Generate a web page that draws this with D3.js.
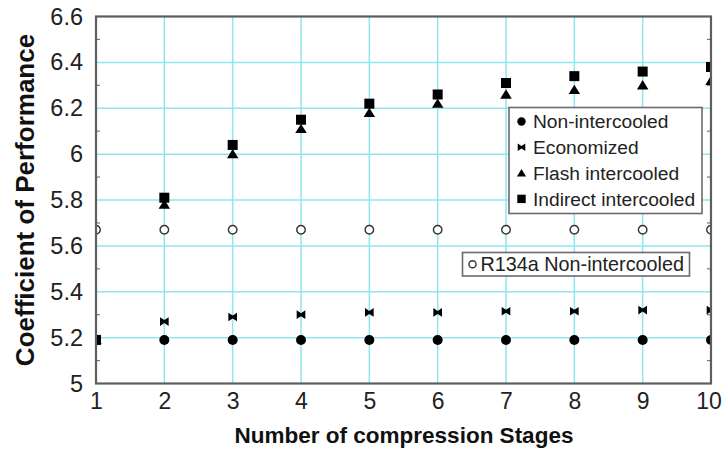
<!DOCTYPE html>
<html>
<head>
<meta charset="utf-8">
<script src="https://cdn.jsdelivr.net/npm/d3@7"></script>
<style>
  html, body { margin: 0; padding: 0; background: #fff; }
  svg { display: block; font-family: "Liberation Sans", Arial, Helvetica, sans-serif; }
</style>
</head>
<body>
<svg id="chart" width="723" height="455"></svg>
<script>
// Coefficient of performance against number of compression stages
const stages = [1, 2, 3, 4, 5, 6, 7, 8, 9, 10];
const nonIntercooled    = [5.19, 5.19, 5.19, 5.19, 5.19, 5.19, 5.19, 5.19, 5.19, 5.19];
const economized        = [5.19, 5.27, 5.29, 5.30, 5.31, 5.31, 5.315, 5.315, 5.32, 5.32];
const flashIntercooled  = [5.19, 5.78, 6.00, 6.11, 6.18, 6.22, 6.26, 6.28, 6.30, 6.32];
const indirectIntercooled = [5.19, 5.81, 6.04, 6.15, 6.22, 6.26, 6.31, 6.34, 6.36, 6.38];
const r134aNonIntercooled = [5.67, 5.67, 5.67, 5.67, 5.67, 5.67, 5.67, 5.67, 5.67, 5.67];

const xTicks = [1, 2, 3, 4, 5, 6, 7, 8, 9, 10];
const yTicks = [5, 5.2, 5.4, 5.6, 5.8, 6, 6.2, 6.4, 6.6];
const yMinorTicks = [5.1, 5.3, 5.5, 5.7, 5.9, 6.1, 6.3, 6.5];

const seriesNames = ["Non-intercooled", "Economized", "Flash intercooled", "Indirect intercooled"];
const r134aName = "R134a Non-intercooled";

const svg = d3.select("#chart");
const plotL = 96, plotR = 711, plotT = 16.5, plotB = 383.5;

const x = d3.scaleLinear().domain([1, 10]).range([plotL, plotR]);
const y = d3.scaleLinear().domain([5, 6.6]).range([plotB, plotT]);

const gridColor = "#8fe6ee";
const frameColor = "#5e5e5e";

// grid
const grid = svg.append("g");
grid.selectAll("line.gx").data(xTicks.slice(1, -1)).join("line")
  .attr("x1", d => x(d)).attr("x2", d => x(d))
  .attr("y1", plotT).attr("y2", plotB)
  .attr("stroke", gridColor).attr("stroke-width", 1.5);
grid.selectAll("line.gy").data(yTicks.slice(1, -1)).join("line")
  .attr("x1", plotL).attr("x2", plotR)
  .attr("y1", d => y(d)).attr("y2", d => y(d))
  .attr("stroke", gridColor).attr("stroke-width", 1.5);

// axes with tick labels
const xAxis = d3.axisBottom(x).tickValues(xTicks).tickSize(0).tickPadding(9).tickFormat(d3.format("d"));
const gx = svg.append("g").attr("transform", `translate(0,${plotB})`).call(xAxis);
gx.select(".domain").remove();
gx.selectAll("text").attr("font-size", 23).attr("fill", "#222");
// keep the last label inside the canvas edge
gx.selectAll(".tick").filter(d => d === xTicks[xTicks.length - 1]).select("text").attr("dx", -2.5);
gx.attr("font-family", null).attr("font-size", null);

const yAxis = d3.axisLeft(y).tickValues(yTicks).tickSize(0).tickPadding(13).tickFormat(d => d3.format("~g")(d));
const gy = svg.append("g").attr("transform", `translate(${plotL},0)`).call(yAxis);
gy.select(".domain").remove();
gy.selectAll("text").attr("font-size", 23.5).attr("fill", "#222");
gy.attr("font-family", null).attr("font-size", null);

// inward minor ticks on left and right
const minor = svg.append("g").attr("stroke", "#777").attr("stroke-width", 1.2);
minor.selectAll("line.ml").data(yMinorTicks).join("line")
  .attr("x1", plotL).attr("x2", plotL + 4)
  .attr("y1", d => y(d)).attr("y2", d => y(d));
minor.selectAll("line.mr").data(yMinorTicks).join("line")
  .attr("x1", plotR).attr("x2", plotR - 4)
  .attr("y1", d => y(d)).attr("y2", d => y(d));

// markers
svg.append("defs").append("clipPath").attr("id", "plotClip")
  .append("rect").attr("x", plotL).attr("y", plotT).attr("width", plotR - plotL).attr("height", plotB - plotT);

const bowtie = s => `M${-s},${-s}L0,${-s * 0.35}L${s},${-s}L${s},${s}L0,${s * 0.35}L${-s},${s}Z`;
const triangle = s => `M0,${-s}L${s * 1.1},${s * 0.8}L${-s * 1.1},${s * 0.8}Z`;

function drawMarker(g, kind, size) {
  if (kind === 0) g.append("circle").attr("r", size).attr("fill", "#000");
  else if (kind === 1) g.append("path").attr("d", bowtie(size * 0.9)).attr("fill", "#000");
  else if (kind === 2) g.append("path").attr("d", triangle(size)).attr("fill", "#000");
  else if (kind === 3) g.append("rect").attr("x", -size).attr("y", -size).attr("width", 2 * size).attr("height", 2 * size).attr("fill", "#000");
  else g.append("circle").attr("r", size * 0.85).attr("fill", "#fff").attr("stroke", "#333").attr("stroke-width", 1.4);
}

const plot = svg.append("g").attr("clip-path", "url(#plotClip)");
const allSeries = [nonIntercooled, economized, flashIntercooled, indirectIntercooled, r134aNonIntercooled];
const sizes = [5, 4.8, 5.2, 5, 5];
allSeries.forEach((vals, k) => {
  plot.append("g").selectAll("g").data(stages.map((s, i) => [s, vals[i]])).join("g")
    .attr("transform", d => `translate(${x(d[0])},${y(d[1])})`)
    .each(function () { drawMarker(d3.select(this), k, sizes[k]); });
});

// frame
svg.append("rect").attr("x", plotL).attr("y", plotT).attr("width", plotR - plotL).attr("height", plotB - plotT)
  .attr("fill", "none").attr("stroke", frameColor).attr("stroke-width", 2.2);

// legend for the CO2 cycles
const lg = svg.append("g").attr("transform", "translate(509,107.5)");
lg.append("rect").attr("width", 193).attr("height", 106).attr("fill", "#fff")
  .attr("stroke", "#6a6a6a").attr("stroke-width", 1.6);
seriesNames.forEach((name, k) => {
  const row = lg.append("g").attr("transform", `translate(0,${14 + k * 25.8})`);
  const m = row.append("g").attr("transform", "translate(12.5,0)");
  drawMarker(m, k, 4.2);
  row.append("text").attr("x", 24).attr("y", 0).attr("dy", "0.35em")
    .attr("font-size", 19.2).attr("fill", "#222").text(name);
});

// legend for the R134a cycle
const lg2 = svg.append("g").attr("transform", "translate(462.5,252.5)");
lg2.append("rect").attr("width", 227).attr("height", 23.5).attr("fill", "#fff")
  .attr("stroke", "#6a6a6a").attr("stroke-width", 1.6);
const m2 = lg2.append("g").attr("transform", "translate(10,11.75)");
drawMarker(m2, 4, 4.2);
lg2.append("text").attr("x", 18).attr("y", 11.75).attr("dy", "0.35em")
  .attr("font-size", 19.8).attr("fill", "#222").text(r134aName);

// axis titles
svg.append("text").attr("x", (plotL + plotR) / 2 + 0.5).attr("y", 443)
  .attr("text-anchor", "middle").attr("font-size", 22.5).attr("font-weight", "bold")
  .attr("fill", "#111").text("Number of compression Stages");
svg.append("text").attr("transform", "translate(34,200) rotate(-90)")
  .attr("text-anchor", "middle").attr("font-size", 26).attr("font-weight", "bold")
  .attr("fill", "#111").text("Coefficient of Performance");
</script>
</body>
</html>
